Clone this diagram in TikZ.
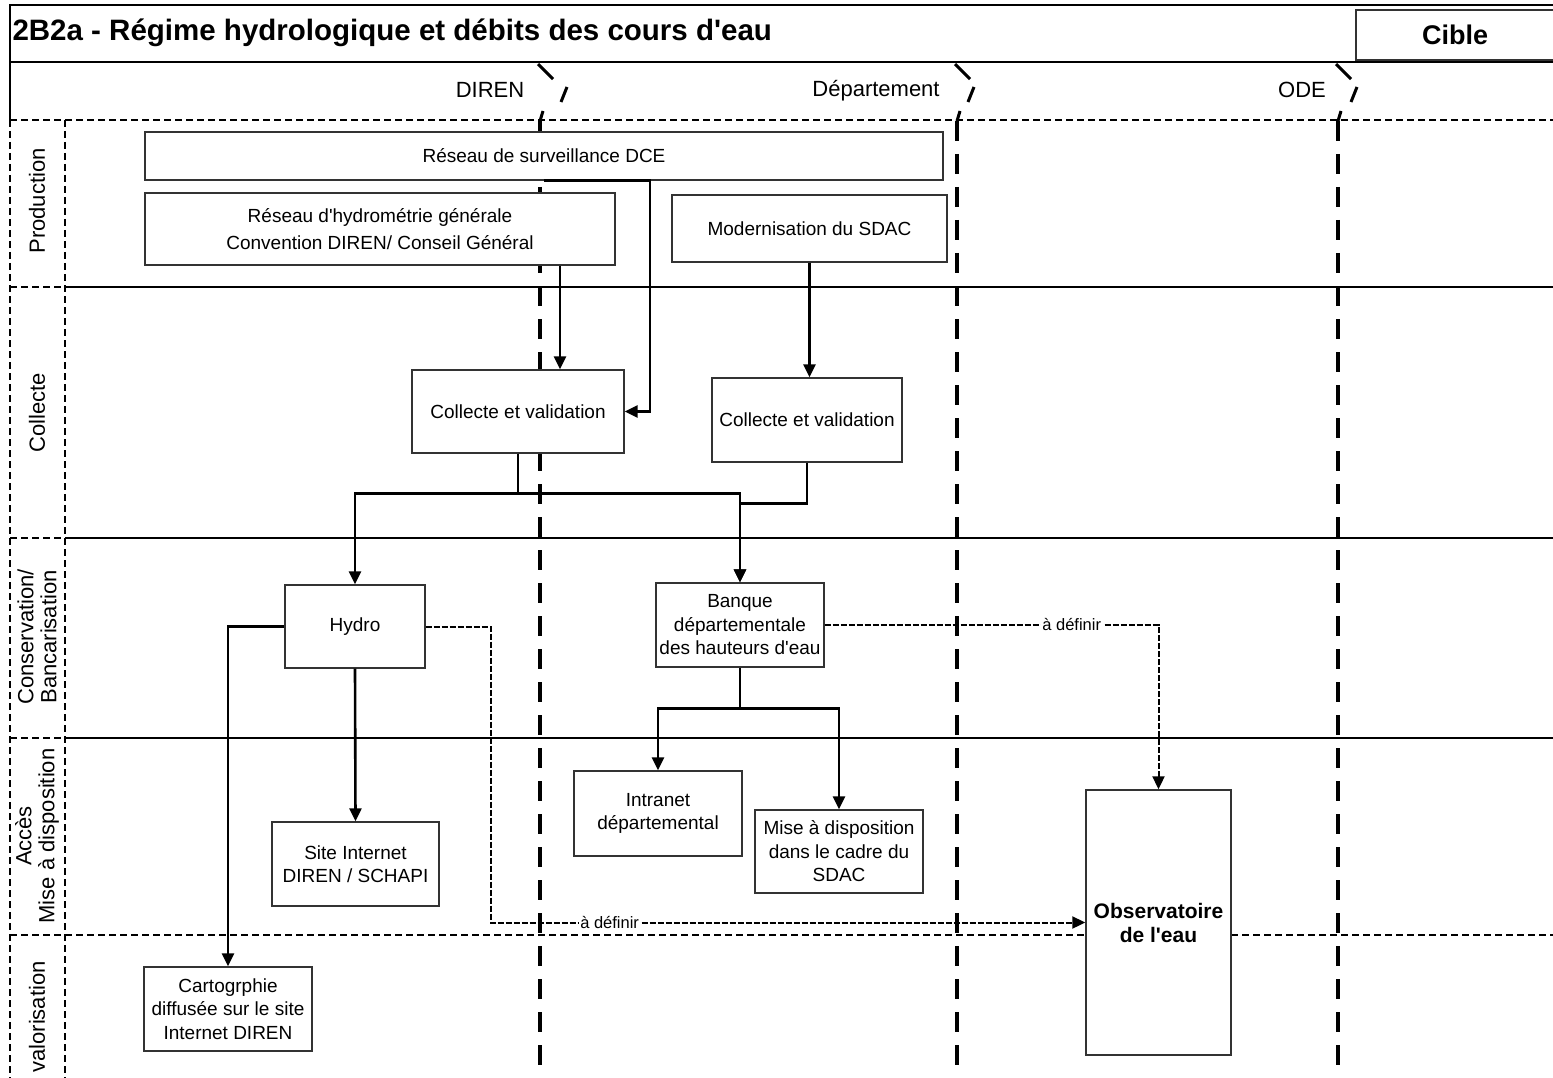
\documentclass[tikz,border=0pt]{standalone}
\usepackage{fontspec}
\setmainfont{Liberation Sans}
\usetikzlibrary{arrows.meta}
\newcommand{\apos}{\textquotesingle}

\begin{document}
\begin{tikzpicture}[x=1pt, y=-1pt]
    \tikzstyle{pbox}=[draw=black!80, line width=1.4pt, fill=white, align=center, inner sep=1pt, font=\fontsize{19}{23.5}\selectfont]
    \tikzstyle{marr}=[line width=2.6pt, -{Triangle[length=13pt,width=12pt]}]
    \tikzstyle{darr}=[line width=2pt, dash pattern=on 6pt off 2pt, -{Triangle[length=13pt,width=12pt]}]
    \tikzstyle{lane}=[line width=4pt, dash pattern=on 20pt off 13pt]
    \tikzstyle{hmark}=[line width=3pt]
    \tikzstyle{rowline}=[line width=1.2pt]
    \tikzstyle{rowdash}=[line width=1.6pt, dash pattern=on 7pt off 4pt]
    \tikzstyle{lbl}=[fill=white, inner sep=1.5pt, font=\fontsize{16.5}{18}\selectfont]
    \tikzstyle{rowname}=[rotate=90, align=center, font=\fontsize{22}{23}\selectfont]
    \tikzstyle{lanename}=[font=\fontsize{22}{24}\selectfont]
    \def\W{1553}

    \useasboundingbox (0,0) rectangle (\W,1078);

    % frame, title and header
    \draw[rowline] (10,120) -- (10,5) -- (\W,5);
    \draw[rowline] (10,62) -- (\W,62);
    \node[anchor=west, font=\fontsize{29.5}{31}\selectfont\bfseries] (title) at (9,33) {2B2a - Régime hydrologique et débits des cours d\apos eau};
    \node[draw=black!80, line width=1.4pt, minimum width=198pt, minimum height=50pt, font=\fontsize{27}{29}\selectfont\bfseries] (cible) at (1455,35) {Cible};
    \node[lanename] (diren) at (490,90) {DIREN};
    \node[lanename] (dept) at (876,91) {Département};
    \node[lanename] (ode) at (1302,90) {ODE};

    % grid
    \draw[rowdash] (10,120) -- (\W,120);
    \draw[rowdash] (10,935) -- (\W,935);
    \foreach \y in {287, 538, 738} {
        \draw[rowline] (65,\y) -- (\W,\y);
        \draw[rowdash] (10,\y) -- (65,\y);
    }
    \draw[rowdash] (10,120) -- (10,1078);
    \draw[rowdash] (65,120) -- (65,1078);
    \foreach \x/\o in {540/27, 957/17, 1338/19} {
        \draw[hmark] (\x-2,64) -- (\x+13,79);
        \draw[hmark] (\x+\o,87) -- (\x+\o-6,102);
        \draw[hmark] (\x+3,111) -- (\x,121);
        \draw[lane] (\x,121) -- (\x,1078);
    }

    \node[rowname] (prod) at (37,201) {Production};
    \node[rowname] (coll) at (37,413) {Collecte};
    \node[rowname] (cons) at (37,637) {Conservation/\\Bancarisation};
    \node[rowname] (acces) at (37,836) {Accès\\Mise à disposition};
    \node[rowname] (valo) at (37,1017) {valorisation};

    % boxes
    \node[pbox, minimum width=798pt, minimum height=48pt] (dce) at (544,156) {Réseau de surveillance DCE};
    \node[pbox, minimum width=470pt, minimum height=72pt] (hydrom) at (380,229) {Réseau d\apos hydrométrie générale\\[3pt]Convention DIREN/ Conseil Général};
    \node[pbox, minimum width=275pt, minimum height=67pt] (modern) at (809.5,228.5) {Modernisation du SDAC};
    \node[pbox, minimum width=212pt, minimum height=83pt] (colL) at (518,411.5) {Collecte et validation};
    \node[pbox, minimum width=190pt, minimum height=84pt] (colR) at (807,420) {Collecte et validation};
    \node[pbox, minimum width=140pt, minimum height=83pt] (hydro) at (355,626.5) {Hydro};
    \node[pbox, minimum width=168pt, minimum height=84pt] (banque) at (740,625) {Banque\\départementale\\des hauteurs d\apos eau};
    \node[pbox, minimum width=167pt, minimum height=84pt] (site) at (355.5,864) {Site Internet\\DIREN / SCHAPI};
    \node[pbox, minimum width=168pt, minimum height=85pt] (intra) at (658,813.5) {Intranet\\départemental};
    \node[pbox, minimum width=168pt, minimum height=83pt] (mise) at (839,851.5) {Mise à disposition\\dans le cadre du\\SDAC};
    \node[pbox, minimum width=145pt, minimum height=265pt, font=\fontsize{21}{24}\selectfont\bfseries] (obs) at (1158.5,922.5) {Observatoire\\de l\apos eau};
    \node[pbox, minimum width=168pt, minimum height=84pt] (carto) at (228,1009) {Cartogrphie\\diffusée sur le site\\Internet DIREN};

    % flows
    \draw[marr] ([xshift=180pt]hydrom.south) -- ([xshift=42pt]colL.north);
    \draw[marr] (dce.south) -- ++(106,0) |- (colL.east);
    \draw[marr] (modern.south) -- (modern.south |- colR.north);
    \draw[marr] (colL.south) -- ++(0,40) -| (hydro.north);
    \draw[marr] (colL.south) -- ++(0,40) -| (banque.north);
    \draw[marr] (colR.south) -- ++(0,41) -| (banque.north);
    \draw[marr] (hydro.west) -| (carto.north);
    \draw[marr] (hydro.south) -- (site.north);
    \draw[marr] (banque.south) -- ++(0,41) -| (intra.north);
    \draw[marr] (banque.south) -- ++(0,41) -| (mise.north);
    \draw[darr] (hydro.east) -- ++(65,0) |- node[lbl, pos=0.6] {à définir} (obs.west);
    \draw[darr] (banque.east) -| node[lbl, pos=0.37] {à définir} (obs.north);
\end{tikzpicture}
\end{document}
